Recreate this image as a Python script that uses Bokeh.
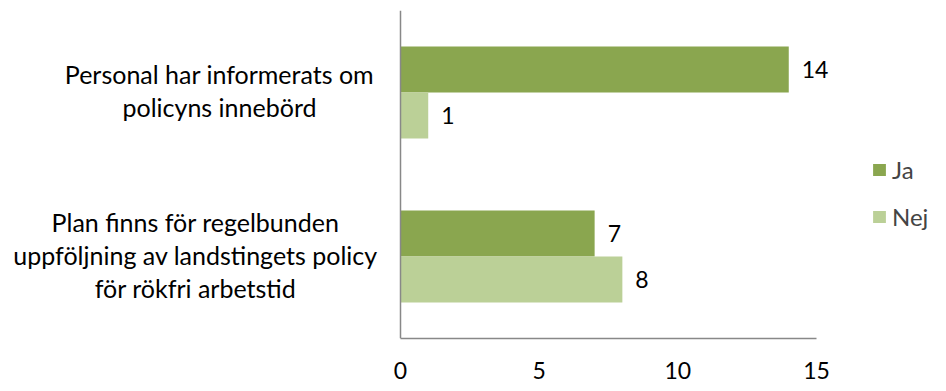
from bokeh.plotting import figure
from bokeh.models import ColumnDataSource, Range1d, FixedTicker, Legend
from bokeh.core.properties import value
from bokeh.embed import file_html
from bokeh.resources import INLINE

categories = ["Personal har informerats om\npolicyns innebörd",
              "Plan finns för regelbunden\nuppföljning av landstingets policy\nför rökfri arbetstid"]
ja = [14, 7]
nej = [1, 8]
series = ["Ja", "Nej"]
x_ticks = [0, 5, 10, 15]

FONT = "Lato"
JA_COLOR = "#8AA64F"
NEJ_COLOR = "#BBD097"

cat_y = [1.5, 0.5]
off = 0.14
ja_y = [c + off for c in cat_y]
nej_y = [c - off for c in cat_y]

W, H = 940, 385
p = figure(width=W, height=H, output_backend="svg", toolbar_location=None,
           x_range=Range1d(-400 / 27.733, (W - 400) / 27.733), y_range=Range1d(0, 2),
           min_border_left=0, min_border_right=0, min_border_top=10, min_border_bottom=H - 338)
p.outline_line_color = None
p.grid.visible = False

src_ja = ColumnDataSource(dict(y=ja_y, v=ja, t=[str(v) for v in ja]))
src_nej = ColumnDataSource(dict(y=nej_y, v=nej, t=[str(v) for v in nej]))

r1 = p.hbar(y="y", right="v", left=0, height=0.28, source=src_ja, fill_color=JA_COLOR, line_color=None)
r2 = p.hbar(y="y", right="v", left=0, height=0.28, source=src_nej, fill_color=NEJ_COLOR, line_color=None)

for s in (src_ja, src_nej):
    p.text(x="v", y="y", text="t", source=s, x_offset=13, text_baseline="middle",
           text_font=value(FONT), text_font_size="23px", text_color="#000000")

# category labels: one row per line, centred lines within each block
block_dx = [-181, -205]
rows = dict(x=[], y=[], t=[], dx=[], dy=[])
for cat, cy, dx in zip(categories, cat_y, block_dx):
    lines = cat.split("\n")
    n = len(lines)
    for i, ln in enumerate(lines):
        rows["x"].append(0)
        rows["y"].append(cy)
        rows["t"].append(ln)
        rows["dx"].append(dx)
        rows["dy"].append(-2 + (i - (n - 1) / 2) * 33)
p.text(x="x", y="y", text="t", source=ColumnDataSource(rows), x_offset="dx", y_offset="dy",
       text_align="center", text_baseline="alphabetic", text_font=value(FONT),
       text_font_size="25px", text_color="#000000")

p.xaxis.ticker = FixedTicker(ticks=x_ticks)
p.xaxis.bounds = (0, 15)
p.xaxis.major_tick_line_color = None
p.xaxis.minor_tick_line_color = None
p.xaxis.axis_line_color = "#888888"
p.xaxis.axis_line_width = 1.5
p.xaxis.major_label_standoff = 17
p.xaxis.major_label_text_font = FONT
p.xaxis.major_label_text_font_size = "23px"
p.xaxis.major_label_text_color = "#000000"

p.yaxis.fixed_location = 0
p.yaxis.ticker = FixedTicker(ticks=[])
p.yaxis.major_tick_line_color = None
p.yaxis.minor_tick_line_color = None
p.yaxis.major_label_text_font_size = "0px"
p.yaxis.axis_line_color = "#888888"
p.yaxis.axis_line_width = 1.5

legend = Legend(items=[(series[0], [r1]), (series[1], [r2])], location=(871, 107),
                glyph_width=16, glyph_height=15, label_text_font=FONT, label_text_font_size="24px",
                label_standoff=5, spacing=18, padding=0, margin=0, border_line_color=None,
                background_fill_alpha=0, label_height=24)
p.add_layout(legend)

open("out.html", "w").write(file_html(p, INLINE))
